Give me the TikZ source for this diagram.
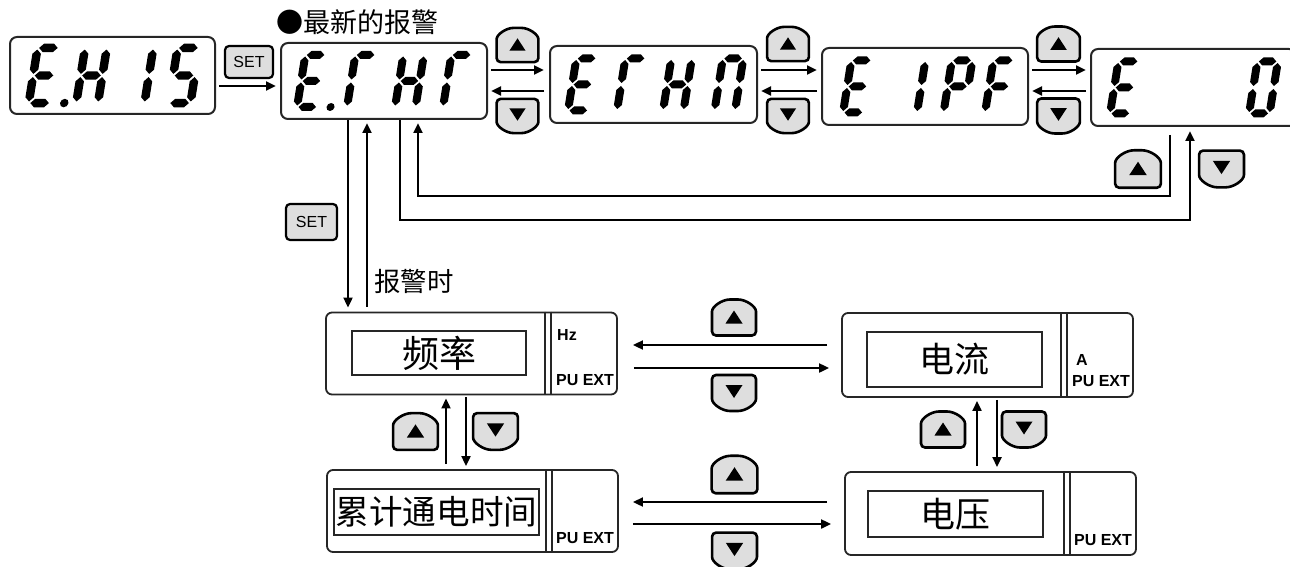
\documentclass[tikz,border=0pt]{standalone}
\usepackage{fontspec}
\setmainfont{Liberation Sans}
\newfontfamily\cjk{Noto Sans CJK SC}
\usetikzlibrary{arrows.meta}
\newlength\px \setlength\px{0.5pt}
% seven-segment pieces (local frame: origin top-left, y down, W=28, H=60)
\newcommand\dsegH[3]{\fill ({#1},{#3}) -- ({#1+4},{#3-4}) -- ({#2-4},{#3-4}) -- ({#2},{#3}) -- ({#2-4},{#3+4}) -- ({#1+4},{#3+4}) -- cycle;}
\newcommand\dsegV[3]{\fill ({#1},{#2}) -- ({#1+4},{#2+4}) -- ({#1+4},{#3-4}) -- ({#1},{#3}) -- ({#1-4},{#3-4}) -- ({#1-4},{#2+4}) -- cycle;}
\newcommand\sgA{\dsegH{5.5}{23}{4}}
\newcommand\sgG{\dsegH{5.5}{23}{30}}
\newcommand\sgD{\dsegH{5.5}{23}{56}}
\newcommand\sgF{\dsegV{4}{5.5}{28.5}}
\newcommand\sgE{\dsegV{4}{31.5}{54.5}}
\newcommand\sgB{\dsegV{24.5}{5.5}{28.5}}
\newcommand\sgC{\dsegV{24.5}{31.5}{54.5}}
\newcommand\sgP{\fill (37.5,56) circle (4);}
\newcommand\dig[4][1]{\begin{scope}[shift={(#2,#3)}, xslant=0.16, scale=#1]#4\end{scope}}
\newcommand\upkey[4][1]{\begin{scope}[shift={(#3,#4)}, scale=#1]
 \draw[btn] (-22,18) -- (-22,-2) .. controls (-22,-11) and (-12,-18) .. (0,-18) .. controls (12,-18) and (22,-11) .. (22,-2) -- (22,18) -- cycle;
 \fill (-8.5,6) -- (8.5,6) -- (0,-7) -- cycle;
 \coordinate (#2) at (0,0);
\end{scope}}
\newcommand\downkey[4][1]{\begin{scope}[shift={(#3,#4)}, scale=#1]
 \draw[btn] (-22,-18) -- (-22,2) .. controls (-22,11) and (-12,18) .. (0,18) .. controls (12,18) and (22,11) .. (22,2) -- (22,-18) -- cycle;
 \fill (-8.5,-8) -- (8.5,-8) -- (0,5) -- cycle;
 \coordinate (#2) at (0,0);
\end{scope}}
\begin{document}
\begin{tikzpicture}[x=0.5pt, y=-0.5pt,
 lcd/.style={draw=black!85, line width=2\px, rounded corners=7\px, inner sep=0, minimum height=77\px},
 panel/.style={draw=black!85, line width=1.8\px, rounded corners=6\px, inner sep=0, minimum width=291\px, minimum height=82\px},
 win/.style={draw=black!85, line width=1.6\px, inner sep=0, font=\cjk\fontsize{17.5pt}{17.5pt}\selectfont},
 arr/.style={line width=2.5\px, -{Triangle[length=5pt, width=4.4pt]}},
 setkey/.style={draw=black, line width=2.2\px, fill=black!13, rounded corners=4\px, inner sep=0, font=\fontsize{8pt}{8pt}\selectfont},
 unit/.style={font=\bfseries\fontsize{8pt}{8pt}\selectfont, inner sep=0},
 btn/.style={draw=black, line width=2.6\px, fill=black!13, rounded corners=2pt},
 dbl/.style={draw=black!85, line width=1.6\px},
 lbl/.style={inner sep=0, anchor=west},
]
\useasboundingbox (0,0) rectangle (1290,567);
\clip (0,0) rectangle (1290,567);

% ---------- top row displays ----------
\node[lcd, minimum width=205\px] (d1) at (112.5,75.5) {};
\node[lcd, minimum width=206\px, minimum height=76\px] (d2) at (384,81) {};
\node[lcd, minimum width=207\px] (d3) at (653.5,84.5) {};
\node[lcd, minimum width=206\px] (d4) at (925,86.5) {};
\node[lcd, minimum width=205\px] (d5) at (1193.5,87.5) {};

% digits
\dig[1.06]{34}{43.7}{\sgA\sgF\sgE\sgG\sgD\sgP}
\dig[1.06]{81.5}{43.7}{\sgF\sgE\sgB\sgC\sgG}
\dig[1.06]{128}{43.7}{\sgB\sgC}
\dig[1.06]{174}{43.7}{\sgA\sgF\sgG\sgC\sgD}

\dig{302}{51}{\sgA\sgF\sgE\sgG\sgD\sgP}
\dig{352}{51}{\sgA\sgF\sgE}
\dig{400}{51}{\sgF\sgE\sgB\sgC\sgG}
\dig{448}{51}{\sgA\sgF\sgE}

\dig{573}{54.5}{\sgA\sgF\sgE\sgG\sgD}
\dig{622}{54.5}{\sgA\sgF\sgE}
\dig{668}{54.5}{\sgF\sgE\sgB\sgC\sgG}
\dig{719.5}{54.5}{\sgA\sgF\sgE\sgB\sgC}

\dig{848}{56.5}{\sgA\sgF\sgE\sgG\sgD}
\dig{901.5}{56.5}{\sgB\sgC}
\dig{948.5}{56.5}{\sgA\sgF\sgB\sgG\sgE}
\dig{990}{56.5}{\sgA\sgF\sgG\sgE}

\dig{1115}{57.5}{\sgA\sgF\sgE\sgG\sgD}
\dig{1254}{57.5}{\sgA\sgB\sgC\sgD\sgE\sgF}

% labels
\node[lbl, font=\cjk\fontsize{13.5pt}{13.5pt}\selectfont] (latest) at (276,22) {●最新的报警};
\node[lbl, font=\cjk\fontsize{13.2pt}{13.2pt}\selectfont] (onalarm) at (374,281) {报警时};

% SET keys
\node[setkey, minimum width=48\px, minimum height=32\px] (set1) at (249,62) {SET};
\node[setkey, minimum width=51\px, minimum height=36\px] (set2) at (311.5,222) {SET};

% ---------- lower panels ----------
\node[panel] (pf) at (471.5,353.5) {};
\node[panel, minimum height=84\px] (pc) at (987.5,355) {};
\node[panel] (pt) at (472.5,511) {};
\node[panel, minimum height=83\px] (pv) at (990.5,513.5) {};

\node[win, minimum width=174\px, minimum height=44\px, font=\cjk\fontsize{18.5pt}{18.5pt}\selectfont] (wf) at (439,353) {频率};
\node[win, minimum width=175\px, minimum height=55\px] (wc) at (954.5,359.5) {电流};
\node[win, minimum width=175\px, minimum height=46\px] (wv) at (955.5,514) {电压};
\node[win, minimum width=205\px, minimum height=46\px, font=\cjk\fontsize{16.8pt}{16.8pt}\selectfont] (wt) at (436.5,512) {累计通电时间};

\foreach \p in {pf,pc,pt,pv}{
 \draw[dbl] ([xshift=220\px]\p.north west) -- ([xshift=220\px]\p.south west);
 \draw[dbl] ([xshift=226\px]\p.north west) -- ([xshift=226\px]\p.south west);
}

\node[unit] (hz) at (567,335) {Hz};
\node[unit] (pu1) at (585,380) {PU EXT};
\node[unit] (ua) at (1082,360) {A};
\node[unit] (pu2) at (1101,381) {PU EXT};
\node[unit] (pu3) at (1103,540) {PU EXT};
\node[unit] (pu4) at (585,538) {PU EXT};

% ---------- keys ----------
\upkey[0.95]{k1u}{517.5}{45} \downkey[0.95]{k1d}{517.5}{116}
\upkey[0.95]{k2u}{788}{44} \downkey[0.95]{k2d}{788}{116}
\upkey[0.97]{k3u}{1058.5}{44} \downkey[0.97]{k3d}{1058.5}{116}
\upkey[1.04]{k4u}{1138}{169} \downkey[1.02]{k4d}{1221.5}{169}
\upkey{k5u}{734}{317.5} \downkey{k5d}{734}{393}
\upkey[1.02]{k6u}{415.5}{431.5} \downkey[1.02]{k6d}{495.5}{431.5}
\upkey{k7u}{943}{429.5} \downkey{k7d}{1024}{429.5}
\upkey[1.04]{k8u}{734.5}{474.5} \downkey[1.02]{k8d}{734.5}{551}

% ---------- connectors ----------
\coordinate (ySet) at (0,86);
\coordinate (yR) at (0,70);
\coordinate (yL) at (0,91);
\draw[arr, shorten <=3\px, shorten >=4\px] (d1.east |- ySet) -- (d2.west |- ySet);
\draw[arr, shorten <=3\px, shorten >=5\px] (d2.east |- yR) -- (d3.west |- yR);
\draw[arr, shorten <=5\px, shorten >=3\px] (d3.west |- yL) -- (d2.east |- yL);
\draw[arr, shorten <=3\px, shorten >=4\px] (d3.east |- yR) -- (d4.west |- yR);
\draw[arr, shorten <=4\px, shorten >=3\px] (d4.west |- yL) -- (d3.east |- yL);
\draw[arr, shorten <=3\px, shorten >=4\px] (d4.east |- yR) -- (d5.west |- yR);
\draw[arr, shorten <=4\px, shorten >=3\px] (d5.west |- yL) -- (d4.east |- yL);

\coordinate (xA) at (348,0);
\coordinate (xB) at (367,0);
\draw[arr, shorten >=4\px] (d2.south -| xA) -- (pf.north -| xA);
\draw[arr, shorten <=5\px, shorten >=3\px] (pf.north -| xB) -- (d2.south -| xB);

\coordinate (xI1) at (1170,0);
\coordinate (xI2) at (418,0);
\coordinate (yI) at (0,196);
\coordinate (xO1) at (400,0);
\coordinate (xO2) at (1190,0);
\coordinate (yO) at (0,220);
\draw[arr, shorten <=8\px, shorten >=3\px] (d5.south -| xI1) |- (xI2 |- yI) -- (d2.south -| xI2);
\draw[arr, shorten >=4\px] (d2.south -| xO1) |- (xO2 |- yO) -- (d5.south -| xO2);

\coordinate (yFC1) at (0,345);
\coordinate (yFC2) at (0,368);
\draw[arr, shorten <=14\px, shorten >=15\px] (pc.west |- yFC1) -- (pf.east |- yFC1);
\draw[arr, shorten <=16\px, shorten >=12\px] (pf.east |- yFC2) -- (pc.west |- yFC2);
\coordinate (yTV1) at (0,502);
\coordinate (yTV2) at (0,524);
\draw[arr, shorten <=17\px, shorten >=14\px] (pv.west |- yTV1) -- (pt.east |- yTV1);
\draw[arr, shorten <=14\px, shorten >=13\px] (pt.east |- yTV2) -- (pv.west |- yTV2);

\coordinate (xFT1) at (446,0);
\coordinate (xFT2) at (466,0);
\draw[arr, shorten <=5\px, shorten >=3\px] (pt.north -| xFT1) -- (pf.south -| xFT1);
\draw[arr, shorten <=2\px, shorten >=3\px] (pf.south -| xFT2) -- (pt.north -| xFT2);
\coordinate (xCV1) at (977,0);
\coordinate (xCV2) at (997,0);
\draw[arr, shorten <=5\px, shorten >=3\px] (pv.north -| xCV1) -- (pc.south -| xCV1);
\draw[arr, shorten <=2\px, shorten >=4\px] (pc.south -| xCV2) -- (pv.north -| xCV2);
\end{tikzpicture}
\end{document}
